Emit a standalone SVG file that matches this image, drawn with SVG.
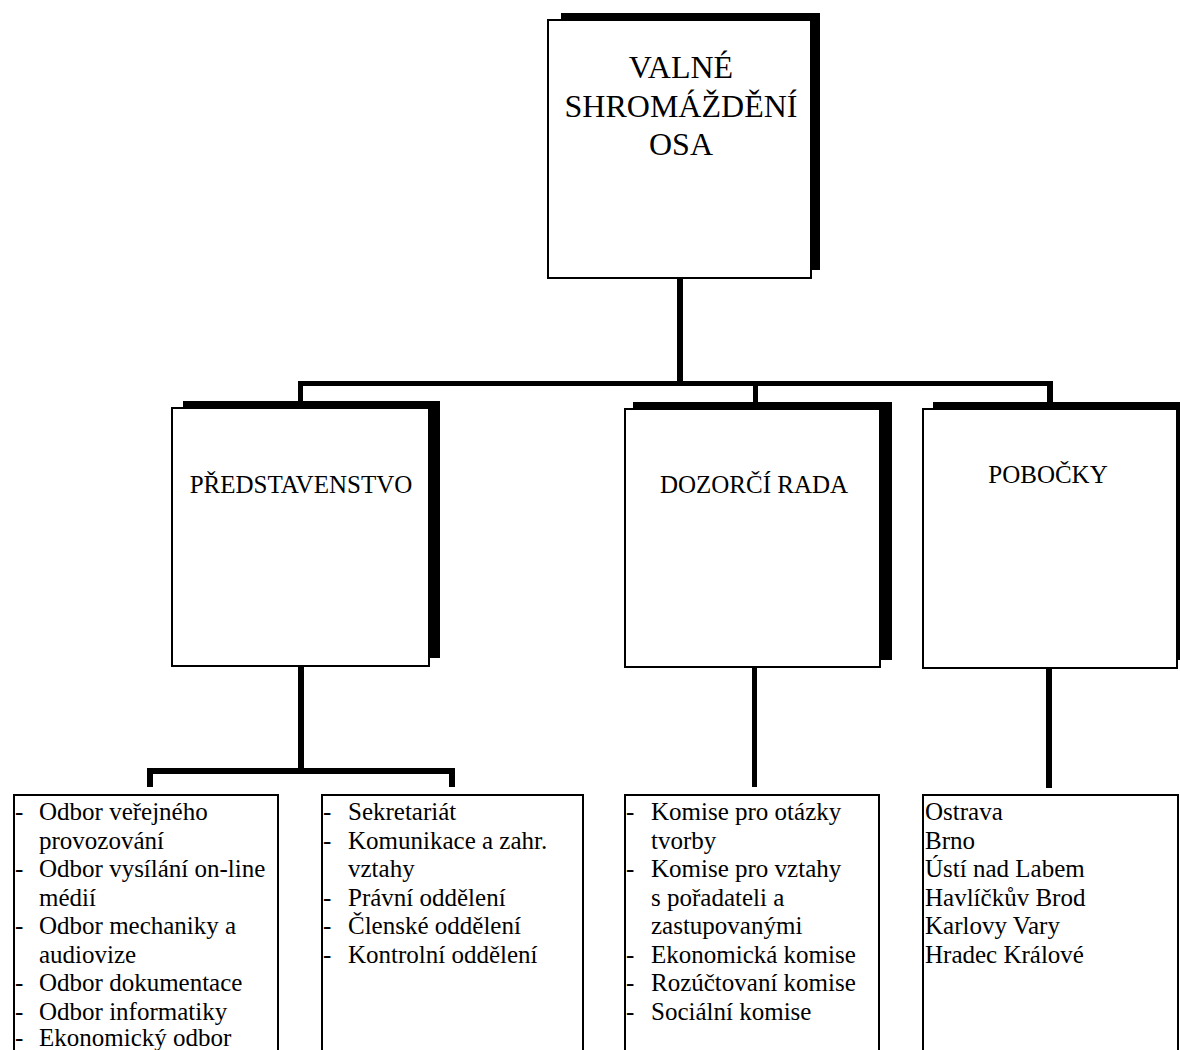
<svg xmlns="http://www.w3.org/2000/svg" width="1180" height="1050" viewBox="0 0 1180 1050">
<style>
text{font-family:"Liberation Serif","Times New Roman",serif;fill:#000}
.title{font-size:32px;text-anchor:middle}
.head{font-size:25px;text-anchor:middle}
.item{font-size:25px}
.box{fill:#fff;stroke:#000;stroke-width:2}
.shadow{fill:#000}
.line{fill:#000}
</style>
<rect x="0" y="0" width="1180" height="1050" fill="#fff"/>

<g id="connectors">
  <rect class="line" x="677" y="277" width="6" height="109"/>
  <rect class="line" x="298" y="381" width="755" height="5"/>
  <rect class="line" x="298" y="381" width="5" height="21"/>
  <rect class="line" x="753" y="381" width="5" height="23"/>
  <rect class="line" x="1047" y="381" width="6" height="23"/>
  <rect class="line" x="298" y="666" width="6" height="107"/>
  <rect class="line" x="147" y="768" width="308" height="6"/>
  <rect class="line" x="147" y="768" width="6" height="19"/>
  <rect class="line" x="449" y="768" width="6" height="19"/>
  <rect class="line" x="752" y="667" width="5" height="120"/>
  <rect class="line" x="1046" y="668" width="6" height="120"/>
</g>

<g id="valne-shromazdeni">
  <rect class="shadow" x="561" y="13" width="259" height="257"/>
  <rect class="box" x="548" y="20" width="263" height="258"/>
  <text class="title" x="681" y="78">VALNÉ</text>
  <text class="title" x="681" y="117">SHROMÁŽDĚNÍ</text>
  <text class="title" x="681" y="155">OSA</text>
</g>

<g id="predstavenstvo">
  <rect class="shadow" x="183" y="401" width="257" height="257"/>
  <rect class="box" x="172" y="408" width="257" height="258"/>
  <text class="head" x="301" y="493">PŘEDSTAVENSTVO</text>
</g>

<g id="dozorci-rada">
  <rect class="shadow" x="633" y="402" width="259" height="258"/>
  <rect class="box" x="625" y="409" width="255" height="258"/>
  <text class="head" x="754" y="493">DOZORČÍ RADA</text>
</g>

<g id="pobocky">
  <rect class="shadow" x="933" y="402" width="260" height="258"/>
  <rect class="box" x="923" y="409" width="254" height="259"/>
  <text class="head" x="1048" y="483">POBOČKY</text>
</g>

<g id="odbory">
  <rect class="box" x="14" y="795" width="264" height="270"/>
  <g class="item">
    <text x="15" y="820">-</text><text x="39" y="820">Odbor veřejného</text>
    <text x="39" y="848.5">provozování</text>
    <text x="15" y="877">-</text><text x="39" y="877">Odbor vysílání on-line</text>
    <text x="39" y="905.5">médií</text>
    <text x="15" y="934">-</text><text x="39" y="934">Odbor mechaniky a</text>
    <text x="39" y="962.5">audiovize</text>
    <text x="15" y="991">-</text><text x="39" y="991">Odbor dokumentace</text>
    <text x="15" y="1019.5">-</text><text x="39" y="1019.5">Odbor informatiky</text>
    <text x="15" y="1046">-</text><text x="39" y="1046">Ekonomický odbor</text>
  </g>
</g>

<g id="oddeleni">
  <rect class="box" x="322" y="795" width="261" height="270"/>
  <g class="item">
    <text x="323" y="820">-</text><text x="348" y="820">Sekretariát</text>
    <text x="323" y="848.5">-</text><text x="348" y="848.5">Komunikace a zahr.</text>
    <text x="348" y="877">vztahy</text>
    <text x="323" y="905.5">-</text><text x="348" y="905.5">Právní oddělení</text>
    <text x="323" y="934">-</text><text x="348" y="934">Členské oddělení</text>
    <text x="323" y="962.5">-</text><text x="348" y="962.5">Kontrolní oddělení</text>
  </g>
</g>

<g id="komise">
  <rect class="box" x="625" y="795" width="254" height="270"/>
  <g class="item">
    <text x="626" y="820">-</text><text x="651" y="820">Komise pro otázky</text>
    <text x="651" y="848.5">tvorby</text>
    <text x="626" y="877">-</text><text x="651" y="877">Komise pro vztahy</text>
    <text x="651" y="905.5">s pořadateli a</text>
    <text x="651" y="934">zastupovanými</text>
    <text x="626" y="962.5">-</text><text x="651" y="962.5">Ekonomická komise</text>
    <text x="626" y="991">-</text><text x="651" y="991">Rozúčtovaní komise</text>
    <text x="626" y="1019.5">-</text><text x="651" y="1019.5">Sociální komise</text>
  </g>
</g>

<g id="mesta">
  <rect class="box" x="923" y="795" width="255" height="270"/>
  <g class="item">
    <text x="925" y="820">Ostrava</text>
    <text x="925" y="848.5">Brno</text>
    <text x="925" y="877">Ústí nad Labem</text>
    <text x="925" y="905.5">Havlíčkův Brod</text>
    <text x="925" y="934">Karlovy Vary</text>
    <text x="925" y="962.5">Hradec Králové</text>
  </g>
</g>
</svg>
